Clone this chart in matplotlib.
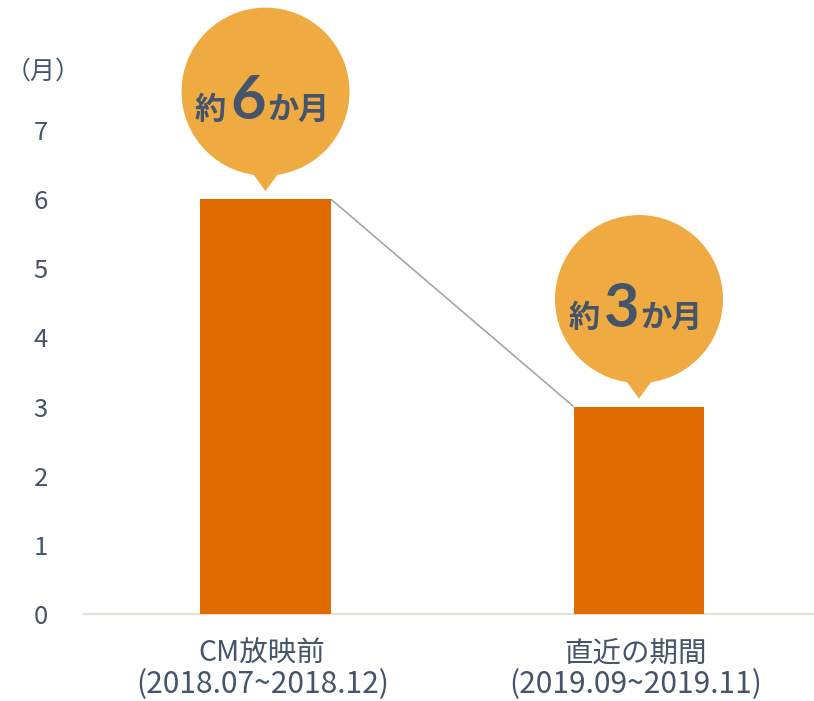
import matplotlib
matplotlib.use("Agg")
import matplotlib.pyplot as plt
import matplotlib.transforms as mtransforms
from matplotlib.patches import Circle, Polygon

# Data
categories = ["CM放映前", "直近の期間"]
periods = ["(2018.07~2018.12)", "(2019.09~2019.11)"]
months = [6, 3]
callout_numbers = ["6", "3"]
y_ticks = [0, 1, 2, 3, 4, 5, 6, 7]
y_unit_label = "（月）"

BAR_COLOR = "#E06B00"
BUBBLE_COLOR = "#F0AA42"
TEXT_COLOR = "#44546A"
AXIS_COLOR = "#E3E0D8"
LINK_COLOR = "#A6A6A6"
CJK = ["Noto Sans CJK JP", "DejaVu Sans"]

W, H, DPI = 814, 701, 100
fig = plt.figure(figsize=(W / DPI, H / DPI), dpi=DPI)

# axes: x from px 84 to 814, baseline at px 614, 7 at px 130
px_per_unit = (614 - 130) / 7.0
ax = fig.add_axes([84 / W, (H - 614) / H, 1 - 84 / W, 614 / H])
ax.set_ylim(0, 614 / px_per_unit)

bar_w = 0.35
x = [0, 1]
left_px, center0_px, step_px = 84, 265.5, 373.5
ax.set_xlim((left_px - center0_px) / step_px, (W - center0_px) / step_px)

ax.bar(x, months, width=bar_w, color=BAR_COLOR, zorder=3)

# connector between bar tops
ax.plot([x[0] + bar_w / 2, x[1] - bar_w / 2], [months[0], months[1]],
        color=LINK_COLOR, lw=1.2, zorder=2, solid_capstyle="butt")

# spines / ticks
for s in ["top", "right", "left"]:
    ax.spines[s].set_visible(False)
ax.spines["bottom"].set_color(AXIS_COLOR)
ax.spines["bottom"].set_linewidth(1.6)
ax.set_yticks(y_ticks)
ax.set_yticklabels([str(v) for v in y_ticks], family=CJK, fontsize=18.5, color=TEXT_COLOR)
ax.tick_params(axis="y", length=0, pad=26)
ax.set_xticks(x)
ax.set_xticklabels(["", ""])
ax.tick_params(axis="x", length=0)

# two-line category labels below the axis (offsets in pixels)
px = mtransforms.Affine2D().scale(1 / DPI) + fig.dpi_scale_trans
for xi, cat, per in zip(x, categories, periods):
    tr = px + mtransforms.ScaledTranslation(xi, 0, ax.transData)
    ax.text(-4, -40, cat, transform=tr, family=CJK, fontsize=20.5,
            color=TEXT_COLOR, ha="center", va="center", clip_on=False)
    ax.text(-3, -70.5, per, transform=tr, family=CJK, fontsize=21.5,
            color=TEXT_COLOR, ha="center", va="center", clip_on=False)

fig.text(43 / W, 1 - 72 / H, y_unit_label, family=CJK, fontsize=18,
         color=TEXT_COLOR, ha="center", va="center")

# speech-bubble callouts anchored at each bar top (offsets in pixels)
for xi, v, num in zip(x, months, callout_numbers):
    tr = px + mtransforms.ScaledTranslation(xi, v, ax.transData)
    ax.add_patch(Circle((0, 107.5), 84, transform=tr, color=BUBBLE_COLOR,
                        lw=0, clip_on=False, zorder=4))
    ax.add_patch(Polygon([(-16, 30), (16, 30), (0, 8)], closed=True,
                         transform=tr, color=BUBBLE_COLOR, lw=0,
                         clip_on=False, zorder=4))
    ax.text(-55, 80, "約", transform=tr, family=CJK, weight="bold",
            fontsize=22.5, color=TEXT_COLOR, ha="center", va="baseline", zorder=5)
    ax.text(-17, 80, num, transform=tr, family=["Lato", "DejaVu Sans"], weight="bold",
            fontsize=44, color=TEXT_COLOR, ha="center", va="baseline", zorder=5)
    ax.text(17, 80, "か", transform=tr, family=CJK, weight="bold",
            fontsize=22.5, color=TEXT_COLOR, ha="center", va="baseline", zorder=5)
    ax.text(47, 80, "月", transform=tr, family=CJK, weight="bold",
            fontsize=22.5, color=TEXT_COLOR, ha="center", va="baseline", zorder=5)

fig.savefig("out.png", dpi=DPI, facecolor="white")
